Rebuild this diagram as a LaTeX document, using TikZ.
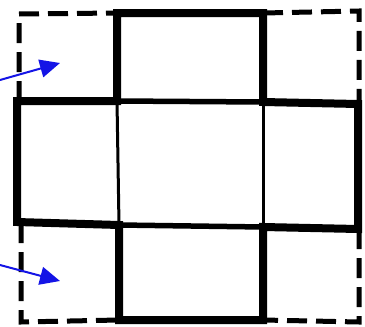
\documentclass[tikz,border=0pt]{standalone}
\usetikzlibrary{arrows.meta}
\begin{document}
\begin{tikzpicture}[x=1pt,y=-1pt,
  wall/.style={line width=8pt,line join=miter},
  inner/.style={line width=3pt},
  midwall/.style={line width=5.5pt},
  dashwall/.style={line width=5pt,dash pattern=on 20pt off 9pt},
  pointer/.style={draw={rgb,255:red,20;green,20;blue,230},line width=2pt,
     -{Triangle[length=20pt,width=18pt]}}]
\useasboundingbox (0,0) rectangle (365,327);
% corner coordinates
\coordinate (tl) at (117,13);
\coordinate (tr) at (263,13);
\coordinate (ar) at (263,102);
\coordinate (rr) at (358,104);
\coordinate (rb) at (358,229);
\coordinate (br) at (263,227);
\coordinate (bb) at (263,320);
\coordinate (bl) at (119,320);
\coordinate (ab) at (119,225);
\coordinate (lb) at (17,222);
\coordinate (lt) at (17,101);
\coordinate (al) at (117,101);
% cross outline
\draw[wall] (tl) -- (tr) -- (ar) -- (rr) -- (rb) -- (br) -- (bb) -- (bl) -- (ab) -- (lb) -- (lt) -- (al) -- cycle;
% inner walls
\draw[inner] (al) -- (ab);
\draw[inner] (ar) -- (br);
\draw[midwall] (al) -- (ar);
\draw[midwall] (ab) -- (br);
% dashed outer
\coordinate (d1) at (19,14);
\coordinate (d2) at (359,11);
\coordinate (d3) at (21,322);
\coordinate (d4) at (359,322);
\draw[dashwall] (19,101) -- (d1) -- (tl);
\draw[dashwall] (tr) -- (d2) -- (359,104);
\draw[dashwall] (21,223) -- (d3) -- (bl);
\draw[dashwall] (359,229) -- (d4) -- (bb);
% arrows
\coordinate (a1s) at (0,80);
\coordinate (a1e) at (60,63);
\coordinate (a2s) at (0,265);
\coordinate (a2e) at (60,281);
\draw[pointer] (a1s) -- (a1e);
\draw[pointer] (a2s) -- (a2e);
\end{tikzpicture}
\end{document}
